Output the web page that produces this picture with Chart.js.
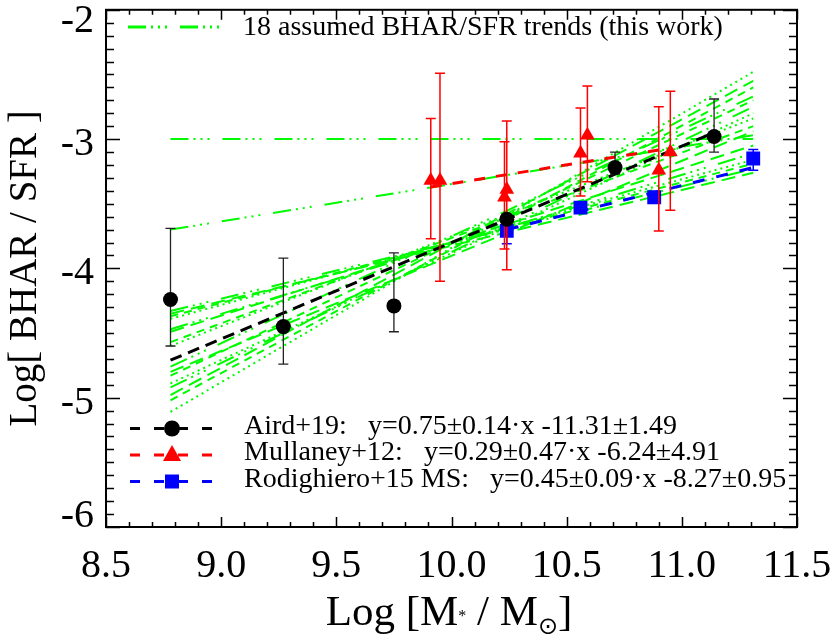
<!DOCTYPE html>
<html>
<head>
<meta charset="utf-8">
<script src="https://cdn.jsdelivr.net/npm/chart.js@4.4.1/dist/chart.umd.min.js"></script>
<style>
  html, body { margin: 0; padding: 0; background: #fff; }
  #wrap { width: 830px; height: 634px; }
</style>
</head>
<body>
<div id="wrap"><canvas id="chart" width="830" height="634"></canvas></div>
<script>
// --------------------------- Data ---------------------------
const xMin = 8.5, xMax = 11.5;
const yMin = -6, yMax = -2;
const xTickValues = [8.5, 9.0, 9.5, 10.0, 10.5, 11.0, 11.5];
const xTickLabels = ['8.5', '9.0', '9.5', '10.0', '10.5', '11.0', '11.5'];
const yTickValues = [-6, -5, -4, -3, -2];
const yTickLabels = ['-6', '-5', '-4', '-3', '-2'];

// 18 assumed BHAR/SFR trends (start / end of each line)
const trendX = [8.78, 11.31];
const trendLeftY  = [-3.00, -3.70, -5.11, -5.02, -4.98, -4.92, -4.89, -4.83, -4.80, -4.76,
                     -4.60, -4.57, -4.49, -4.47, -4.39, -4.37, -4.35, -4.33];
const trendRightY = [-3.00, -2.97, -2.48, -2.60, -2.55, -2.75, -2.80, -2.70, -2.94, -2.67,
                     -2.84, -2.90, -3.05, -3.11, -3.16, -3.19, -3.26, -3.23];

// Aird+19
const airdX    = [8.78, 9.27, 9.75, 10.24, 10.71, 11.14];
const airdY    = [-4.24, -4.45, -4.29, -3.62, -3.22, -2.98];
const airdLow  = [-4.60, -4.74, -4.49, -3.66, -3.27, -3.10];
const airdHigh = [-3.69, -3.92, -3.88, -3.58, -3.10, -2.69];
const airdFitX = [8.78, 11.14];
const airdFitY = [-4.71, -2.95];

// Mullaney+12
const mullX    = [9.91, 9.95, 10.24, 10.23, 10.56, 10.59, 10.90, 10.95];
const mullY    = [-3.32, -3.32, -3.39, -3.45, -3.11, -2.97, -3.24, -3.10];
const mullLow  = [-3.77, -4.10, -4.01, -3.85, -3.44, -3.33, -3.71, -3.55];
const mullHigh = [-2.84, -2.49, -2.86, -3.02, -2.76, -2.59, -2.75, -2.63];
const mullFitX = [9.91, 10.95];
const mullFitY = [-3.37, -3.07];

// Rodighiero+15 MS
const rodX    = [10.24, 10.56, 10.88, 11.31];
const rodY    = [-3.71, -3.53, -3.45, -3.15];
const rodLow  = [-3.81, -3.55, -3.47, -3.24];
const rodHigh = [-3.63, -3.51, -3.43, -3.08];
const rodFitX = [10.24, 11.31];
const rodFitY = [-3.70, -3.22];

const legendTop = '18 assumed BHAR/SFR trends (this work)';
const legendRows = ['Aird+19:   y=0.75\u00b10.14\u00b7x -11.31\u00b11.49',
                    'Mullaney+12:   y=0.29\u00b10.47\u00b7x -6.24\u00b14.91',
                    'Rodighiero+15 MS:   y=0.45\u00b10.09\u00b7x -8.27\u00b10.95'];

// --------------------------- Styles ---------------------------
const GREEN = 'rgb(0,250,0)';

// pick a Times-like face that is really installed
function pickSerif() {
  const c = document.createElement('canvas').getContext('2d');
  const s = 'Log BHAR SFR 0123456789';
  c.font = '40px monospace';
  const mono = c.measureText(s).width;
  for (const f of ['Liberation Serif', 'Times New Roman', 'Tinos', 'Nimbus Roman', 'FreeSerif', 'DejaVu Serif']) {
    c.font = '40px "' + f + '", monospace';
    if (Math.abs(c.measureText(s).width - mono) > 0.5) return '"' + f + '", serif';
  }
  return 'serif';
}
const SERIF = pickSerif();

const dashDot3 = [18, 5, 2, 5, 2, 5, 2, 13];
const trendDashes = [[14, 7], dashDot3, [2, 4], [8, 6]];

const pts = (xs, ys) => xs.map((x, i) => ({ x: x, y: ys[i] }));

const datasets = [];

// markers (drawn on top)
datasets.push({
  label: 'Aird+19', data: pts(airdX, airdY), order: 0,
  pointStyle: 'circle', pointRadius: 7.5, backgroundColor: '#000', borderColor: '#000', borderWidth: 0,
  errLow: airdLow, errHigh: airdHigh, errColor: '#222', errWidth: 1.3
});
datasets.push({
  label: 'Mullaney+12', data: pts(mullX, mullY), order: 0,
  pointStyle: 'triangle', pointRadius: 8.5, backgroundColor: '#f00', borderColor: '#f00', borderWidth: 0,
  errLow: mullLow, errHigh: mullHigh, errColor: '#f00', errWidth: 1.5
});
datasets.push({
  label: 'Rodighiero+15', data: pts(rodX, rodY), order: 0,
  pointStyle: 'rect', pointRadius: 9.8, backgroundColor: '#00f', borderColor: '#00f', borderWidth: 0,
  errLow: rodLow, errHigh: rodHigh, errColor: '#00f', errWidth: 1.5
});

// fits
[[airdFitX, airdFitY, '#000', [12, 7]],
 [mullFitX, mullFitY, '#f00', [11, 11]],
 [rodFitX, rodFitY, '#00f', [12, 12]]].forEach(([fx, fy, col, dash]) => {
  datasets.push({
    data: pts(fx, fy), order: 1, showLine: true, pointRadius: 0,
    borderColor: col, borderWidth: 3, borderDash: dash
  });
});

// green trends
trendLeftY.forEach((ly, i) => {
  const dash = i < 2 ? dashDot3 : trendDashes[i % trendDashes.length];
  datasets.push({
    data: pts(trendX, [ly, trendRightY[i]]), order: 2, showLine: true, pointRadius: 0,
    borderColor: GREEN, borderWidth: 2, borderDash: dash
  });
});

// --------------------------- Plugins ---------------------------
const errorBars = {
  id: 'errorBars',
  beforeDatasetDraw(chart, args) {
    const ds = chart.data.datasets[args.index];
    if (!ds.errLow) return;
    const { ctx, scales: { x, y } } = chart;
    ctx.save();
    ctx.strokeStyle = ds.errColor;
    ctx.lineWidth = ds.errWidth;
    ds.data.forEach((p, i) => {
      const px = x.getPixelForValue(p.x);
      const y0 = y.getPixelForValue(ds.errLow[i]);
      const y1 = y.getPixelForValue(ds.errHigh[i]);
      ctx.beginPath();
      ctx.moveTo(px, y0); ctx.lineTo(px, y1);
      ctx.moveTo(px - 5, y0); ctx.lineTo(px + 5, y0);
      ctx.moveTo(px - 5, y1); ctx.lineTo(px + 5, y1);
      ctx.stroke();
    });
    ctx.restore();
  }
};

const frame = {
  id: 'frame',
  afterDraw(chart) {
    const { ctx, chartArea: a, scales: { x, y } } = chart;
    ctx.save();
    ctx.strokeStyle = '#000';
    ctx.fillStyle = '#000';

    // ticks (inside, on all four sides)
    ctx.lineWidth = 1.5;
    ctx.beginPath();
    for (let k = 0; k <= 30; k++) {
      const v = xMin + k * 0.1;
      const px = Math.round(x.getPixelForValue(v)) + 0.5;
      const len = k % 5 === 0 ? 10 : 5;
      ctx.moveTo(px, a.bottom); ctx.lineTo(px, a.bottom - len);
      ctx.moveTo(px, a.top); ctx.lineTo(px, a.top + len);
    }
    for (let k = 0; k <= 40; k++) {
      const v = yMin + k * 0.1;
      const py = Math.round(y.getPixelForValue(v)) + 0.5;
      const len = k % 10 === 0 ? 14 : 8;
      ctx.moveTo(a.left, py); ctx.lineTo(a.left + len, py);
      ctx.moveTo(a.right, py); ctx.lineTo(a.right - len, py);
    }
    ctx.stroke();

    // box
    ctx.lineWidth = 2;
    ctx.strokeRect(a.left, a.top, a.right - a.left, a.bottom - a.top);

    // tick labels
    ctx.font = '40px ' + SERIF;
    ctx.textBaseline = 'alphabetic';
    ctx.textAlign = 'center';
    xTickValues.forEach((v, i) => {
      ctx.fillText(xTickLabels[i], x.getPixelForValue(v), 576.5);
    });
    ctx.textAlign = 'right';
    yTickValues.forEach((v, i) => {
      const by = Math.min(Math.max(y.getPixelForValue(v) + 16, 31.5), 527);
      ctx.fillText(yTickLabels[i], 94, by);
    });

    // x title with subscripts
    ctx.textAlign = 'left';
    const big = '43px ' + SERIF, sub = '16px ' + SERIF, sun = '24px "DejaVu Sans", ' + SERIF;
    const parts = [['Log [M', big, 625], ['*', sub, 621], [' / M', big, 625], ['\u2299', sun, 634], [']', big, 625]];
    let total = 0;
    parts.forEach(p => { ctx.font = p[1]; total += ctx.measureText(p[0]).width; });
    let cx = 449 - total / 2;
    parts.forEach(p => {
      ctx.font = p[1];
      ctx.fillText(p[0], cx, p[2]);
      cx += ctx.measureText(p[0]).width;
    });

    // y title
    ctx.save();
    ctx.translate(26, (a.top + a.bottom) / 2);
    ctx.rotate(-Math.PI / 2);
    ctx.font = '39px ' + SERIF;
    ctx.textAlign = 'center';
    ctx.textBaseline = 'middle';
    ctx.fillText('Log[ BHAR / SFR ]', 0, 0);
    ctx.restore();

    // legend: green trends
    ctx.lineWidth = 3;
    ctx.strokeStyle = GREEN;
    ctx.setLineDash(dashDot3);
    ctx.beginPath(); ctx.moveTo(128, 27); ctx.lineTo(226, 27); ctx.stroke();
    ctx.setLineDash([]);
    ctx.font = '28px ' + SERIF;
    ctx.textBaseline = 'alphabetic';
    ctx.textAlign = 'left';
    ctx.fillText(legendTop, 243, 35);

    // legend: data sets
    const cols = ['#000', '#f00', '#00f'];
    const base = [433.5, 460, 486.5];
    base.forEach((b, i) => {
      const ly = b - 5;
      ctx.strokeStyle = cols[i];
      ctx.lineWidth = 3;
      ctx.setLineDash([10, 14]);
      ctx.beginPath(); ctx.moveTo(130, ly); ctx.lineTo(214, ly); ctx.stroke();
      ctx.setLineDash([]);
      ctx.fillStyle = cols[i];
      ctx.beginPath();
      if (i === 0) {
        ctx.arc(172, ly, 8, 0, Math.PI * 2);
      } else if (i === 1) {
        ctx.moveTo(172, ly - 10); ctx.lineTo(181, ly + 6); ctx.lineTo(163, ly + 6); ctx.closePath();
      } else {
        ctx.rect(165, ly - 7, 14, 14);
      }
      ctx.fill();
      ctx.fillStyle = '#000';
      ctx.font = '28px ' + SERIF;
      ctx.fillText(legendRows[i], 244, b);
    });
    ctx.restore();
  }
};

// --------------------------- Chart ---------------------------
new Chart(document.getElementById('chart'), {
  type: 'scatter',
  data: { datasets: datasets },
  options: {
    responsive: false,
    animation: false,
    events: [],
    layout: { padding: { left: 106, right: 33, top: 4, bottom: 107 } },
    plugins: { legend: { display: false }, tooltip: { enabled: false } },
    elements: { line: { tension: 0, borderCapStyle: 'butt' } },
    scales: {
      x: { type: 'linear', min: xMin, max: xMax, display: false },
      y: { type: 'linear', min: yMin, max: yMax, display: false }
    }
  },
  plugins: [errorBars, frame]
});
</script>
</body>
</html>
